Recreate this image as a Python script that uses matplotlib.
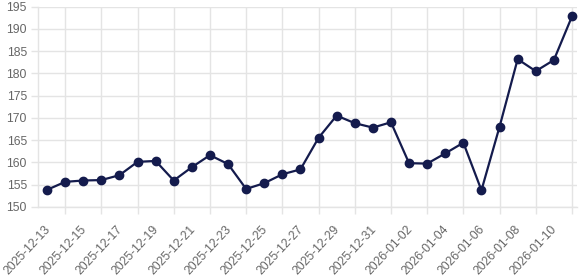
import matplotlib
matplotlib.use("Agg")
import matplotlib.pyplot as plt
import matplotlib.transforms as mtransforms
import pandas as pd

# daily values, 2025-12-13 .. 2026-01-11
dates = pd.date_range("2025-12-13", "2026-01-11", freq="D").strftime("%Y-%m-%d").tolist()
values = [153.8, 155.6, 155.9, 156.0, 157.1, 160.1, 160.3, 155.9, 158.9, 161.6,
          159.6, 154.0, 155.3, 157.3, 158.4, 165.5, 170.5, 168.8, 167.8, 169.0,
          159.8, 159.7, 162.0, 164.4, 153.7, 168.0, 183.2, 180.5, 183.0, 192.8]
y_ticks = list(range(150, 196, 5))

LINE = "#141b4d"
GRID = "#e4e4e4"
TEXT = "#666666"

plt.rcParams["font.family"] = ["Liberation Sans", "DejaVu Sans"]

fig = plt.figure(figsize=(5.8, 2.79), dpi=100)
ax = fig.add_axes([0.0655, 0.259, 0.93, 0.717])

xs = list(range(len(dates)))
ax.plot(xs, values, color=LINE, lw=1.6, marker="o", markersize=6,
        markerfacecolor=LINE, markeredgecolor=LINE, zorder=3)

ax.set_xlim(-0.5, len(dates) - 0.7)
ax.set_ylim(150, 195)

# labels on every other day, grid lines on the days in between
ax.set_xticks(xs[::2])
ax.set_xticklabels(dates[::2], rotation=47, ha="right", rotation_mode="anchor",
                   fontsize=8.7, color=TEXT)
ax.set_xticks(xs[1::2], minor=True)
ax.tick_params(axis="x", which="major", length=0, pad=12)
ax.tick_params(axis="x", which="minor", length=5, color=GRID, width=1)
ax.grid(True, axis="x", which="minor", color=GRID, lw=1)
shift = mtransforms.ScaledTranslation(-3 / 100, 0, fig.dpi_scale_trans)
for lab in ax.get_xticklabels():
    lab.set_transform(lab.get_transform() + shift)

ax.set_yticks(y_ticks)
ax.set_yticklabels([str(t) for t in y_ticks], fontsize=8.7, color=TEXT)
ax.tick_params(axis="y", length=5, color=GRID, width=1, pad=3)
ax.grid(True, axis="y", color=GRID, lw=1)
ax.set_axisbelow(True)

for side in ["top", "right"]:
    ax.spines[side].set_visible(False)
for side in ["left", "bottom"]:
    ax.spines[side].set_color(GRID)
    ax.spines[side].set_linewidth(1)

fig.savefig("out.png", dpi=100)
